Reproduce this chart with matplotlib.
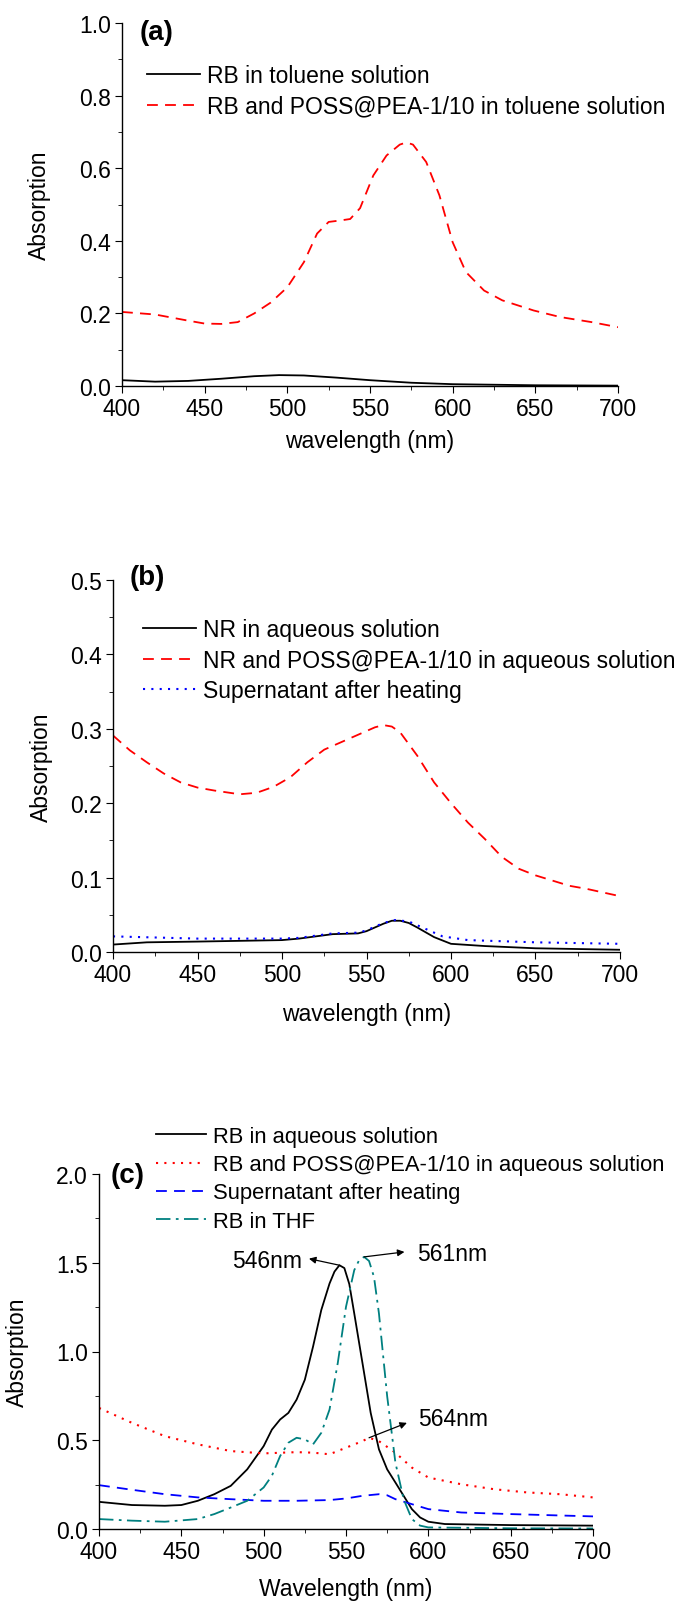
import numpy as np
import matplotlib
matplotlib.use("Agg")
import matplotlib.pyplot as plt

plt.rcParams.update({
    'font.family': ['Liberation Sans', 'DejaVu Sans'],
    'font.size': 16,
    'axes.linewidth': 1.0,
    'xtick.direction': 'out',
    'ytick.direction': 'out',
    'xtick.major.size': 5,
    'ytick.major.size': 5,
    'xtick.minor.size': 3,
    'ytick.minor.size': 3,
})

# ---- panel (a) ----
wl_a_blk = [400, 420, 440, 460, 480, 495, 510, 530, 550, 575, 600, 650, 700]
abs_a_blk = [0.016, 0.012, 0.014, 0.020, 0.027, 0.030, 0.029, 0.023, 0.016, 0.009, 0.005, 0.002, 0.001]
wl_a_red = [400, 420, 440, 450, 460, 470, 480, 490, 500, 510, 518, 525, 532, 538, 544, 552,
            560, 568, 572, 576, 584, 592, 600, 608, 619, 630, 649, 665, 684, 700]
abs_a_red = [0.204, 0.197, 0.180, 0.172, 0.171, 0.176, 0.200, 0.230, 0.272, 0.341, 0.420, 0.452, 0.456,
             0.460, 0.490, 0.580, 0.635, 0.665, 0.671, 0.665, 0.617, 0.525, 0.396, 0.314, 0.263, 0.236,
             0.208, 0.190, 0.176, 0.162]
labels_a = ['RB in toluene solution', 'RB and POSS@PEA-1/10 in toluene solution']

# ---- panel (b) ----
wl_b_blk = [400, 420, 450, 500, 510, 520, 530, 545, 550, 555, 560, 565, 570, 575, 580, 590, 600, 620, 650, 700]
abs_b_blk = [0.010, 0.013, 0.014, 0.016, 0.018, 0.021, 0.024, 0.025, 0.028, 0.033, 0.038, 0.042, 0.042,
             0.039, 0.033, 0.020, 0.011, 0.008, 0.005, 0.003]
wl_b_red = [400, 410, 420, 430, 440, 450, 460, 475, 485, 495, 505, 515, 525, 535, 545, 555, 560, 565,
            570, 580, 590, 600, 610, 620, 630, 640, 650, 660, 670, 680, 690, 700]
abs_b_red = [0.291, 0.271, 0.255, 0.240, 0.228, 0.221, 0.217, 0.212, 0.214, 0.222, 0.235, 0.255, 0.272,
             0.282, 0.292, 0.302, 0.305, 0.303, 0.295, 0.264, 0.228, 0.200, 0.174, 0.152, 0.128, 0.112,
             0.103, 0.096, 0.089, 0.085, 0.080, 0.075]
wl_b_blu = [400, 450, 500, 510, 520, 530, 545, 550, 555, 560, 567, 575, 585, 595, 610, 650, 700]
abs_b_blu = [0.021, 0.018, 0.018, 0.019, 0.022, 0.025, 0.026, 0.029, 0.034, 0.039, 0.043, 0.041, 0.031,
             0.021, 0.016, 0.013, 0.011]
labels_b = ['NR in aqueous solution', 'NR and POSS@PEA-1/10 in aqueous solution',
            'Supernatant after heating']

# ---- panel (c) ----
wl_c_blk = [400, 420, 440, 450, 460, 470, 480, 490, 500, 505, 510, 515, 520, 525, 530, 535, 540, 543,
            546, 549, 552, 555, 560, 565, 570, 575, 580, 585, 590, 595, 600, 610, 650, 700]
abs_c_blk = [0.153, 0.135, 0.131, 0.135, 0.159, 0.196, 0.243, 0.336, 0.467, 0.560, 0.617, 0.654, 0.729,
             0.841, 1.028, 1.234, 1.383, 1.450, 1.486, 1.470, 1.380, 1.215, 0.935, 0.654, 0.449, 0.336,
             0.262, 0.187, 0.112, 0.065, 0.041, 0.028, 0.022, 0.019]
wl_c_red = [400, 420, 440, 460, 480, 500, 520, 530, 540, 550, 560, 564, 570, 580, 590, 600, 620, 640,
            660, 680, 700]
abs_c_red = [0.682, 0.598, 0.523, 0.477, 0.439, 0.426, 0.433, 0.430, 0.421, 0.458, 0.495, 0.514, 0.495,
             0.430, 0.346, 0.290, 0.252, 0.224, 0.206, 0.196, 0.178]
wl_c_blu = [400, 420, 440, 460, 480, 500, 520, 540, 550, 560, 570, 575, 580, 590, 600, 620, 650, 700]
abs_c_blu = [0.247, 0.221, 0.196, 0.178, 0.168, 0.159, 0.159, 0.163, 0.172, 0.187, 0.196, 0.190, 0.168,
             0.140, 0.112, 0.093, 0.084, 0.071]
wl_c_teal = [400, 420, 440, 460, 470, 480, 490, 500, 505, 510, 515, 520, 525, 530, 535, 540, 545, 550,
             555, 558, 561, 564, 567, 570, 575, 580, 585, 590, 595, 600, 650, 700]
abs_c_teal = [0.056, 0.047, 0.041, 0.056, 0.084, 0.121, 0.159, 0.234, 0.300, 0.411, 0.486, 0.514, 0.505,
              0.477, 0.542, 0.673, 0.935, 1.252, 1.458, 1.515, 1.533, 1.510, 1.420, 1.215, 0.748, 0.374,
              0.168, 0.056, 0.019, 0.009, 0.004, 0.003]
labels_c = ['RB in aqueous solution', 'RB and POSS@PEA-1/10 in aqueous solution',
            'Supernatant after heating', 'RB in THF']

RED = '#ff0000'
BLUE = '#0000ff'
TEAL = '#008080'
DASH = (0, (6, 4))
DOT = (0, (1, 3))
DASHDOT = (0, (8, 3, 1.5, 3))
FS = 16.5

W, H = 688, 1606
fig = plt.figure(figsize=(W / 100, H / 100), dpi=100)


def add_axes(left, top, right, bottom):
    return fig.add_axes([left / W, 1 - bottom / H, (right - left) / W, (bottom - top) / H])


def style(ax, ymax, ymaj, ymin, label, xlab, ylab_x, xlab_y, tag_xy):
    ax.set_xlim(400, 700)
    ax.set_ylim(0, ymax)
    ax.set_xticks(np.arange(400, 701, 50))
    ax.set_xticks(np.arange(400, 701, 25), minor=True)
    ax.set_yticks(np.arange(0, ymax + 1e-9, ymaj))
    ax.set_yticks(np.arange(0, ymax + 1e-9, ymin), minor=True)
    ax.yaxis.set_major_formatter(matplotlib.ticker.FormatStrFormatter('%.1f'))
    ax.spines['top'].set_visible(False)
    ax.spines['right'].set_visible(False)
    ax.tick_params(labelsize=FS, pad=3)
    ax.set_xlabel(xlab, fontsize=FS)
    ax.set_ylabel('Absorption', fontsize=FS)
    ax.yaxis.set_label_coords(ylab_x, 0.5)
    ax.xaxis.set_label_coords(0.5, xlab_y)
    ax.text(tag_xy[0], tag_xy[1], label, transform=ax.transAxes, fontsize=20,
            fontweight='bold', ha='left', va='center')


def legend(ax, x, top, spacing, fs=FS):
    ax.legend(loc='upper left', bbox_to_anchor=(x / W, 1 - top / H), bbox_transform=fig.transFigure,
              frameon=False, fontsize=fs, handlelength=2.3, handletextpad=0.3,
              labelspacing=spacing, borderpad=0, borderaxespad=0)


# (a)
ax = add_axes(122, 24, 618, 387)
ax.plot(wl_a_blk, abs_a_blk, color='black', lw=1.3, label=labels_a[0])
ax.plot(wl_a_red, abs_a_red, color=RED, lw=1.3, ls=DASH, label=labels_a[1])
style(ax, 1.0, 0.2, 0.1, '(a)', 'wavelength (nm)', -0.143, -0.118, (0.036, 0.975))
legend(ax, 147, 65, 0.33)

# (b)
ax = add_axes(113, 581, 620, 953)
ax.plot(wl_b_blk, abs_b_blk, color='black', lw=1.3, label=labels_b[0])
ax.plot(wl_b_red, abs_b_red, color=RED, lw=1.3, ls=DASH, label=labels_b[1])
ax.plot(wl_b_blu, abs_b_blu, color=BLUE, lw=1.5, ls=DOT, label=labels_b[2])
style(ax, 0.5, 0.1, 0.05, '(b)', 'wavelength (nm)', -0.118, -0.134, (0.032, 1.008))
legend(ax, 143, 619, 0.33)

# (c)
ax = add_axes(99, 1175, 593, 1530)
ax.plot(wl_c_blk, abs_c_blk, color='black', lw=1.3, label=labels_c[0])
ax.plot(wl_c_red, abs_c_red, color=RED, lw=1.5, ls=DOT, label=labels_c[1])
ax.plot(wl_c_blu, abs_c_blu, color=BLUE, lw=1.3, ls=DASH, label=labels_c[2])
ax.plot(wl_c_teal, abs_c_teal, color=TEAL, lw=1.3, ls=DASHDOT, label=labels_c[3])
style(ax, 2.0, 0.5, 0.25, '(c)', 'Wavelength (nm)', -0.142, -0.135, (0.024, 0.997))
legend(ax, 156, 1127, 0.33, fs=15.8)

arrow = dict(arrowstyle='-|>', color='black', lw=0.9, mutation_scale=10, shrinkA=0, shrinkB=0)
p1 = (546, np.interp(546, wl_c_blk, abs_c_blk))
p2 = (561, np.interp(561, wl_c_teal, abs_c_teal))
p3 = (564, np.interp(564, wl_c_red, abs_c_red))
ax.annotate('', xy=(527.5, 1.523), xytext=p1, arrowprops=arrow)
ax.annotate('', xy=(585.5, 1.561), xytext=p2, arrowprops=arrow)
ax.annotate('', xy=(587, 0.598), xytext=p3, arrowprops=arrow)
ax.text(523.5, 1.51, '546nm', fontsize=FS, ha='right', va='center')
ax.text(593, 1.55, '561nm', fontsize=FS, ha='left', va='center')
ax.text(593.5, 0.62, '564nm', fontsize=FS, ha='left', va='center')

fig.savefig('out.png', dpi=100)
